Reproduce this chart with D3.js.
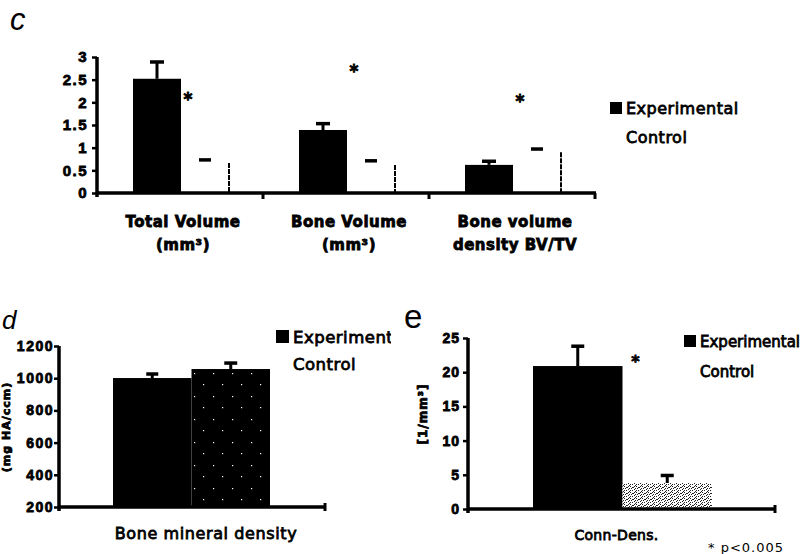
<!DOCTYPE html>
<html><head><meta charset="utf-8">
<script src="https://cdn.jsdelivr.net/npm/d3@7"></script>
<style>
html,body{margin:0;padding:0;background:#fff;}
svg{display:block;font-family:"DejaVu Sans",sans-serif;}
.ink{fill:#000;stroke:#000;stroke-width:0.8px;paint-order:stroke;}
</style></head><body>
<svg id="chart" width="802" height="554"></svg>
<script>
// ---- Panel c: micro-CT volume measures ----
const cCategories = [["Total Volume", "(mm³)"], ["Bone Volume", "(mm³)"], ["Bone volume", "density BV/TV"]];
const cExperimental = [2.52, 1.39, 0.62];
const cExperimentalErr = [0.37, 0.14, 0.08];
const cControl = [0.66, 0.62, 0.90];
const cControlErr = [0.07, 0.09, 0.07];
const cStarLevel = [2.15, 2.75, 2.1];
const cTicks = [0, 0.5, 1, 1.5, 2, 2.5, 3];

// ---- Panel d: bone mineral density ----
const dCategories = ["Bone mineral density"];
const dExperimental = [1001];
const dExperimentalErr = [25];
const dControl = [1057];
const dControlErr = [37];
const dTicks = [200, 400, 600, 800, 1000, 1200];
const dAxisTitle = "(mg HA/ccm)";

// ---- Panel e: connectivity density ----
const eCategories = ["Conn-Dens."];
const eExperimental = [20.9];
const eExperimentalErr = [2.9];
const eControl = [3.8];
const eControlErr = [1.1];
const eStarLevel = [22.1];
const eTicks = [0, 5, 10, 15, 20, 25];
const eAxisTitle = "[1/mm³]";

const seriesKeys = ["exp", "ctrl"];
const legendLabels = ["Experimental", "Control"];
const footnote = "* p<0.005";

const svg = d3.select("#chart");
const defs = svg.append("defs");

// Dark fill with sparse light specks (control bar, panel d)
const pd = defs.append("pattern").attr("id", "speckDark").attr("patternUnits", "userSpaceOnUse")
  .attr("width", 19).attr("height", 23);
pd.append("rect").attr("width", 19).attr("height", 23).attr("fill", "#000");
[[4, 5], [13, 16]].forEach(([x, y]) =>
  pd.append("rect").attr("x", x).attr("y", y).attr("width", 1.2).attr("height", 1.2).attr("fill", "#fff"));

// Light stipple (control bar, panel e)
const pe = defs.append("pattern").attr("id", "stipple").attr("patternUnits", "userSpaceOnUse")
  .attr("width", 6).attr("height", 6);
pe.append("rect").attr("width", 6).attr("height", 6).attr("fill", "#fff");
[[0, 0], [3, 1], [1, 2], [4, 3], [2, 4], [5, 5], [0, 4], [4, 0], [2, 1], [5, 2]].forEach(([x, y]) =>
  pe.append("rect").attr("x", x).attr("y", y).attr("width", 1).attr("height", 1).attr("fill", "#222"));

defs.append("clipPath").attr("id", "clipD").append("rect")
  .attr("x", 0).attr("y", 0).attr("width", 391).attr("height", 554);

function yAxis(g, y, x0, ticks, fmt, padding, fontSize, spacing) {
  const ax = d3.axisLeft(y).tickValues(ticks).tickFormat(fmt)
    .tickSize(5).tickSizeOuter(0).tickPadding(padding);
  const a = g.append("g").attr("transform", `translate(${x0},0)`).call(ax);
  a.select(".domain").remove();
  a.selectAll(".tick line").attr("stroke", "#000").attr("stroke-width", 2.5);
  a.selectAll(".tick text").attr("class", "ink")
    .style("font-size", fontSize + "px").style("font-weight", "bold")
    .style("letter-spacing", spacing + "px");
  const [r0, r1] = y.range();
  g.append("line").attr("x1", x0).attr("x2", x0).attr("y1", r1).attr("y2", r0 + 4)
    .attr("stroke", "#000").attr("stroke-width", 3.5);
}

function errBar(g, cx, yTop, yErr, cap, stem) {
  if (stem) g.append("line").attr("x1", cx).attr("x2", cx).attr("y1", yTop).attr("y2", yErr)
    .attr("stroke", "#000").attr("stroke-width", 3);
  g.append("line").attr("x1", cx - cap / 2).attr("x2", cx + cap / 2).attr("y1", yErr).attr("y2", yErr)
    .attr("stroke", "#000").attr("stroke-width", 3.5);
}

function legend(g, x, y0, gap, sq, fontSize, spacing) {
  g.append("rect").attr("x", x).attr("y", y0 - sq).attr("width", sq).attr("height", sq).attr("fill", "#000");
  g.append("text").attr("class", "ink").attr("x", x + sq + 4).attr("y", y0)
    .style("font-size", fontSize + "px").style("letter-spacing", spacing + "px").text(legendLabels[0]);
  g.append("text").attr("class", "ink").attr("x", x + sq + 4).attr("y", y0 + gap)
    .style("font-size", fontSize + "px").style("letter-spacing", spacing + "px").text(legendLabels[1]);
}

// ================= Panel c =================
{
  const g = svg.append("g");
  const y = d3.scaleLinear().domain([0, 3]).range([193, 57]);
  const x = d3.scaleBand().domain(d3.range(cCategories.length)).range([97, 595]);
  const xs = d3.scaleBand().domain(seriesKeys).range([36, 132]);

  g.append("text").attr("x", 10).attr("y", 30).style("font-family", "Liberation Sans, Arial, sans-serif")
    .style("font-style", "italic").style("font-size", "31px").text("c");

  cCategories.forEach((cat, i) => {
    const gx = x(i);
    // experimental
    const ex = gx + xs("exp"), w = xs.bandwidth();
    g.append("rect").attr("x", ex).attr("y", y(cExperimental[i])).attr("width", w)
      .attr("height", y(0) - y(cExperimental[i])).attr("fill", "#000");
    errBar(g, ex + w / 2, y(cExperimental[i]), y(cExperimental[i] + cExperimentalErr[i]), 14, true);
    // control (pale bar; only its right edge shows)
    const cx = gx + xs("ctrl");
    g.append("rect").attr("x", cx).attr("y", y(cControl[i])).attr("width", w)
      .attr("height", y(0) - y(cControl[i])).attr("fill", "#fff");
    g.append("line").attr("x1", cx + w).attr("x2", cx + w).attr("y1", y(cControl[i])).attr("y2", y(0))
      .attr("stroke", "#000").attr("stroke-width", 2).attr("stroke-dasharray", "5,1");
    errBar(g, cx + w / 2, y(cControl[i]), y(cControl[i] + cControlErr[i]), 12, false);
    // significance marker
    g.append("text").attr("class", "ink").attr("x", ex + w + 7).attr("y", y(cStarLevel[i]) + 9)
      .attr("text-anchor", "middle").style("font-size", "17px").style("font-weight", "bold").text("*");
    // category label
    cat.forEach((line, k) => {
      g.append("text").attr("class", "ink").attr("x", gx + x.bandwidth() / 2 + 3).attr("y", 227 + k * 23)
        .attr("text-anchor", "middle").style("font-size", "15px").style("font-weight", "bold")
        .style("letter-spacing", "0.5px").text(line);
    });
  });

  // x axis with group separators
  g.append("line").attr("x1", 96).attr("x2", 596).attr("y1", y(0)).attr("y2", y(0))
    .attr("stroke", "#000").attr("stroke-width", 3.5);
  d3.range(1, cCategories.length + 1).forEach(i => {
    const px = 97 + i * x.step();
    g.append("line").attr("x1", px).attr("x2", px).attr("y1", y(0)).attr("y2", y(0) + 6)
      .attr("stroke", "#000").attr("stroke-width", 3);
  });
  yAxis(g, y, 97, cTicks, d3.format("~g"), 4, 15, 1.5);

  legend(g, 610, 114, 29, 12, 16, 0.5);
}

// ================= Panel d =================
{
  const g = svg.append("g");
  const y = d3.scaleLinear().domain([200, 1200]).range([507, 346]);
  const x = d3.scaleBand().domain(dCategories).range([59, 325]);
  const xs = d3.scaleBand().domain(seriesKeys).range([54, 211]);

  g.append("text").attr("x", 2).attr("y", 329).style("font-family", "Liberation Sans, Arial, sans-serif")
    .style("font-style", "italic").style("font-size", "26px").text("d");
  g.append("text").attr("class", "ink").attr("transform", "translate(10,427) rotate(-90)")
    .attr("text-anchor", "middle").style("font-size", "11px").style("font-weight", "bold")
    .style("letter-spacing", "1px").text(dAxisTitle);

  dCategories.forEach((cat, i) => {
    const gx = x(cat), w = xs.bandwidth();
    const ex = gx + xs("exp"), cx = gx + xs("ctrl");
    g.append("rect").attr("x", ex).attr("y", y(dExperimental[i])).attr("width", w)
      .attr("height", y(200) - y(dExperimental[i])).attr("fill", "#000");
    errBar(g, ex + w / 2, y(dExperimental[i]), y(dExperimental[i] + dExperimentalErr[i]), 12, true);
    g.append("rect").attr("x", cx).attr("y", y(dControl[i])).attr("width", w)
      .attr("height", y(200) - y(dControl[i])).attr("fill", "url(#speckDark)");
    errBar(g, cx + w / 2, y(dControl[i]), y(dControl[i] + dControlErr[i]), 13, true);
    g.append("text").attr("class", "ink").attr("x", gx + x.bandwidth() / 2 + 14).attr("y", 539)
      .attr("text-anchor", "middle").style("font-size", "16px").style("letter-spacing", "0.6px").text(cat);
  });

  g.append("line").attr("x1", 58).attr("x2", 326).attr("y1", y(200)).attr("y2", y(200))
    .attr("stroke", "#000").attr("stroke-width", 3.5);
  g.append("line").attr("x1", 325).attr("x2", 325).attr("y1", y(200) - 4).attr("y2", y(200) + 4)
    .attr("stroke", "#000").attr("stroke-width", 3);
  yAxis(g, y, 59, dTicks, d3.format("d"), 0, 14, 1.5);

  legend(g.append("g").attr("clip-path", "url(#clipD)"), 276, 343, 27, 13, 16.5, 0.5);
}

// ================= Panel e =================
{
  const g = svg.append("g");
  const y = d3.scaleLinear().domain([0, 25]).range([509, 338]);
  const x = d3.scaleBand().domain(eCategories).range([468, 775]);
  const xs = d3.scaleBand().domain(seriesKeys).range([65, 244]);

  g.append("text").attr("x", 404).attr("y", 328).style("font-family", "Liberation Sans, Arial, sans-serif")
    .style("font-size", "33px").text("e");
  g.append("text").attr("class", "ink").attr("transform", "translate(427,414) rotate(-90)")
    .attr("text-anchor", "middle").style("font-size", "12px").style("font-weight", "bold")
    .style("letter-spacing", "1px").text(eAxisTitle);

  eCategories.forEach((cat, i) => {
    const gx = x(cat), w = xs.bandwidth();
    const ex = gx + xs("exp"), cx = gx + xs("ctrl");
    g.append("rect").attr("x", ex).attr("y", y(eExperimental[i])).attr("width", w)
      .attr("height", y(0) - y(eExperimental[i])).attr("fill", "#000");
    errBar(g, ex + w / 2, y(eExperimental[i]), y(eExperimental[i] + eExperimentalErr[i]), 13, true);
    g.append("rect").attr("x", cx).attr("y", y(eControl[i])).attr("width", w)
      .attr("height", y(0) - y(eControl[i])).attr("fill", "url(#stipple)");
    errBar(g, cx + w / 2, y(eControl[i]), y(eControl[i] + eControlErr[i]), 13, true);
    g.append("text").attr("class", "ink").attr("x", ex + w + 13).attr("y", y(eStarLevel[i]) + 9)
      .attr("text-anchor", "middle").style("font-size", "16px").style("font-weight", "bold").text("*");
    g.append("text").attr("class", "ink").attr("x", gx + x.bandwidth() / 2 - 5).attr("y", 540)
      .attr("text-anchor", "middle").style("font-size", "14px").style("letter-spacing", "0.3px").text(cat);
  });

  g.append("line").attr("x1", 467).attr("x2", 776).attr("y1", y(0)).attr("y2", y(0))
    .attr("stroke", "#000").attr("stroke-width", 3.5);
  g.append("line").attr("x1", 775).attr("x2", 775).attr("y1", y(0) - 4).attr("y2", y(0) + 4)
    .attr("stroke", "#000").attr("stroke-width", 3);
  yAxis(g, y, 468, eTicks, d3.format("d"), 3, 14, 1);

  legend(g, 684, 347, 30, 12, 15, 0);

  g.append("text").attr("x", 708).attr("y", 552).style("font-size", "13px")
    .style("letter-spacing", "1px").text(footnote);
}
</script>
</body></html>
